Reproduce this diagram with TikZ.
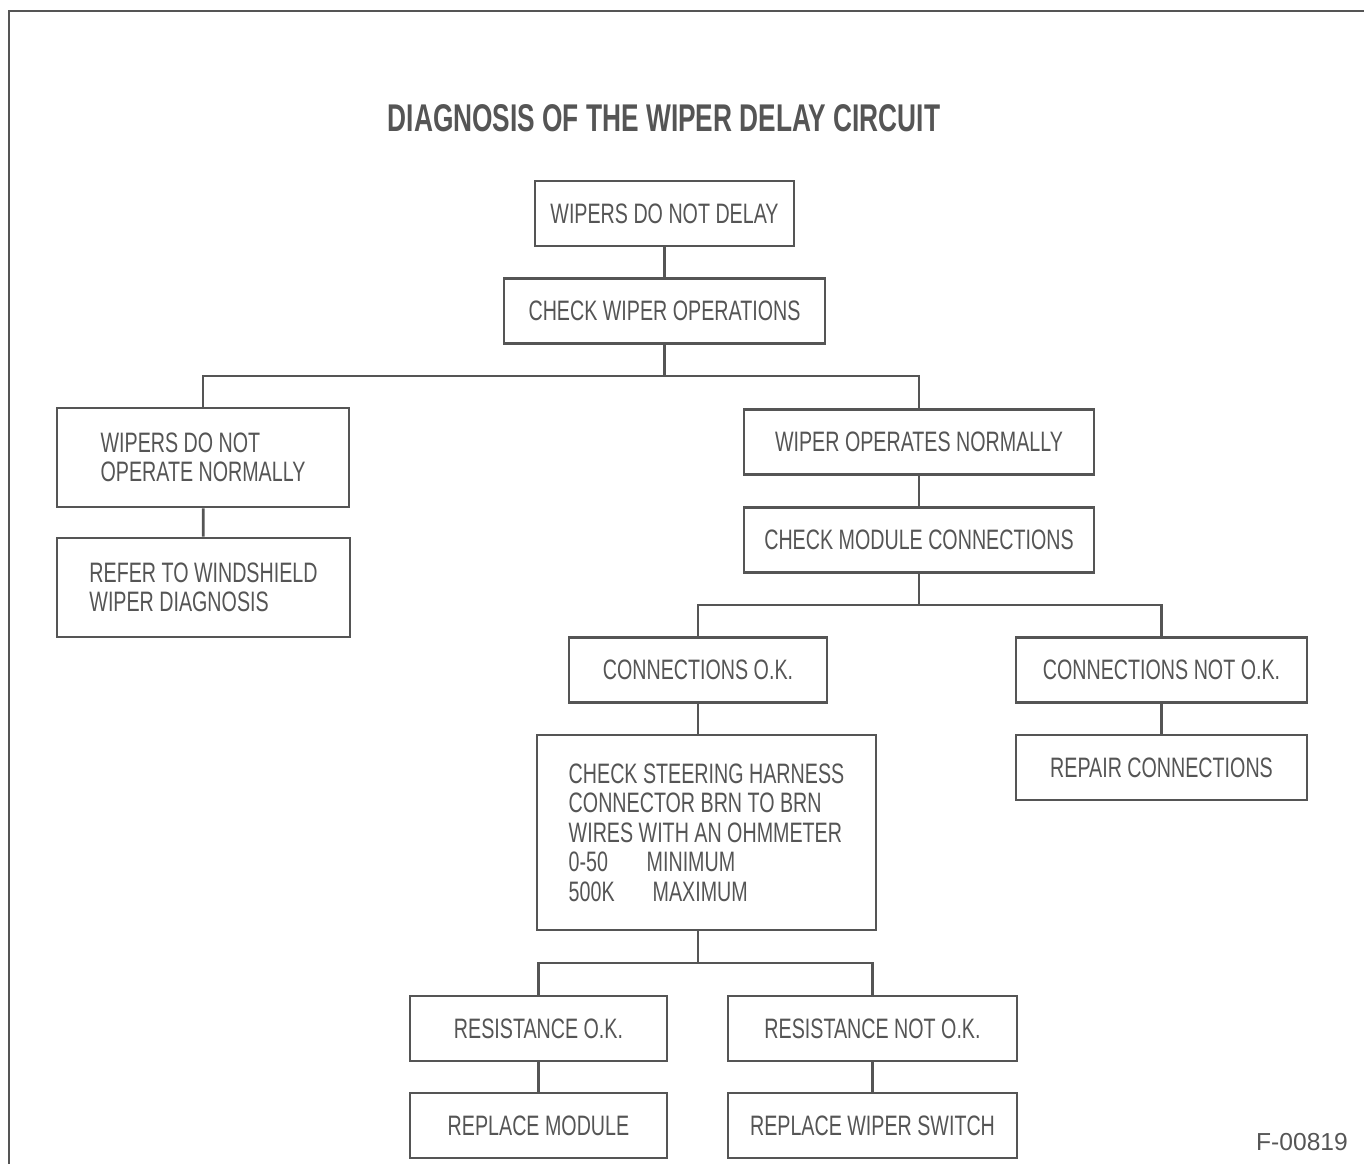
\documentclass[tikz,border=0pt]{standalone}
\usepackage{fontspec}
\setmainfont{Liberation Sans}[FakeStretch=0.7]
\newfontfamily\titlefont{Liberation Sans}[FakeStretch=0.68]
\newfontfamily\plainfont{Liberation Sans}
\usepackage{xcolor}
\usepackage{tikz}
\usetikzlibrary{positioning,calc}
\definecolor{ink}{HTML}{555555}
\tikzset{
  box/.style   = {rectangle, draw=ink, line width=1.6pt, text=ink,
                  align=center, font=\fontsize{16}{16.8}\selectfont,
                  minimum height=1.3cm, inner sep=2pt},
  tall/.style  = {box, align=left, minimum height=1.98cm},
  ttl/.style   = {font=\titlefont\bfseries\fontsize{22}{24}\selectfont, text=ink},
  tag/.style   = {font=\plainfont\fontsize{14}{16}\selectfont, text=ink},
  ln/.style    = {draw=ink, line width=1.6pt}
}

\begin{document}
\begin{tikzpicture}[x=0.02cm, y=-0.02cm]
    \useasboundingbox (0,0) rectangle (1364,1164);
    % ---- Frame and title ----
    \draw[ln] (1364,11) -- (9,11) -- (9,1164);
    \node[ttl] (title) at (664,118) {DIAGNOSIS OF THE WIPER DELAY CIRCUIT};
    \node[tag] (fig) at (1302,1142) {F-00819};

    % ---- Top of chart ----
    \node[box, minimum width=5.18cm] (top) at (664.5,213.5) {WIPERS DO NOT DELAY};
    \node[box, minimum width=6.42cm] (chk) at (664.5,311) {CHECK WIPER OPERATIONS};

    % ---- Left branch ----
    \node[tall, minimum width=5.84cm] (nop) at (203,457.5)
          {WIPERS DO NOT\\ OPERATE NORMALLY};
    \node[tall, minimum width=5.86cm] (ref) at (203.5,587.5)
          {REFER TO WINDSHIELD\\ WIPER DIAGNOSIS};

    % ---- Right branch ----
    \node[box, minimum width=7cm] (opn) at (919,442) {WIPER OPERATES NORMALLY};
    \node[box, minimum width=7cm] (mod) at (919,540) {CHECK MODULE CONNECTIONS};
    \node[box, minimum width=5.16cm] (cok) at (698,670) {CONNECTIONS O.K.};
    \node[box, minimum width=5.82cm] (cnk) at (1161.5,670) {CONNECTIONS NOT O.K.};
    \node[box, minimum width=5.82cm] (rep) at (1161.5,767.5) {REPAIR CONNECTIONS};

    % ---- Ohmmeter check ----
    \node[box, align=left, minimum width=6.78cm, minimum height=3.9cm]
          (ohm) at (706.5,832.5)
          {CHECK STEERING HARNESS\\ CONNECTOR BRN TO BRN\\
           WIRES WITH AN OHMMETER\\
           \makebox[1.56cm][l]{0-50}MINIMUM\\
           \makebox[1.68cm][l]{500K}MAXIMUM};

    % ---- Results ----
    \node[box, minimum width=5.14cm] (rok) at (538.5,1028.5) {RESISTANCE O.K.};
    \node[box, minimum width=5.78cm] (rnk) at (872.5,1028.5) {RESISTANCE NOT O.K.};
    \node[box, minimum width=5.14cm] (rmd) at (538.5,1125.5) {REPLACE MODULE};
    \node[box, minimum width=5.78cm] (rsw) at (872.5,1125.5) {REPLACE WIPER SWITCH};

    % ---- Branch points ----
    \coordinate (b1) at (664.5,376);
    \coordinate (b2) at (919,605);
    \coordinate (b3) at (698,963);

    % ---- Connectors ----
    \draw[ln] (top) -- (chk);
    \draw[ln] (chk) -- (b1);
    \draw[ln] (nop.north) |- (b1) -| (opn.north);
    \draw[ln] (nop) -- (ref);
    \draw[ln] (opn) -- (mod);
    \draw[ln] (mod) -- (b2);
    \draw[ln] (cok.north) |- (b2) -| (cnk.north);
    \draw[ln] (cnk) -- (rep);
    \draw[ln] (cok.south) -- (cok.south |- ohm.north);
    \draw[ln] (ohm.south -| b3) -- (b3);
    \draw[ln] (rok.north) |- (b3) -| (rnk.north);
    \draw[ln] (rok) -- (rmd);
    \draw[ln] (rnk) -- (rsw);
\end{tikzpicture}
\end{document}
